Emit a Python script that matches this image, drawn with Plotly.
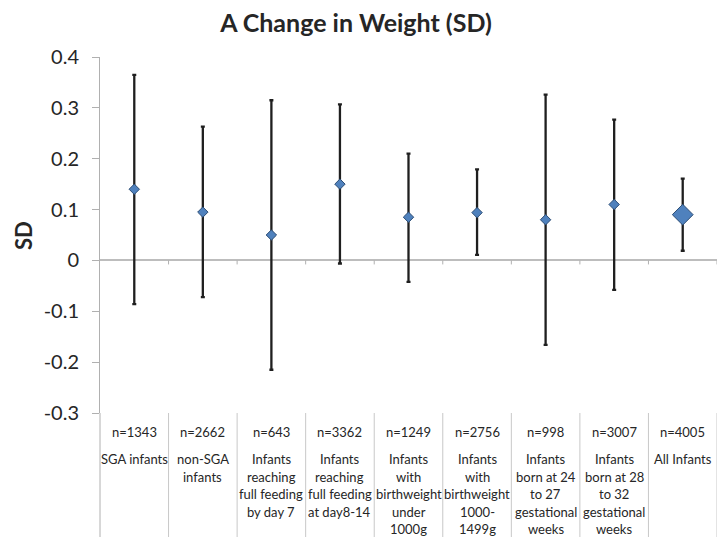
import plotly.graph_objects as go

# ---- data ----
n_labels = ["n=1343", "n=2662", "n=643", "n=3362", "n=1249", "n=2756", "n=998", "n=3007", "n=4005"]
cat_labels = [
    ["SGA infants"],
    ["non-SGA", "infants"],
    ["Infants", "reaching", "full feeding", "by day 7"],
    ["Infants", "reaching", "full feeding", "at day8-14"],
    ["Infants", "with", "birthweight", "under", "1000g"],
    ["Infants", "with", "birthweight", "1000-", "1499g"],
    ["Infants", "born at 24", "to 27", "gestational", "weeks"],
    ["Infants", "born at 28", "to 32", "gestational", "weeks"],
    ["All Infants"],
]
mean_sd = [0.140, 0.095, 0.050, 0.150, 0.085, 0.094, 0.080, 0.110, 0.090]
upper_ci = [0.365, 0.263, 0.315, 0.307, 0.210, 0.179, 0.326, 0.277, 0.161]
lower_ci = [-0.086, -0.072, -0.215, -0.006, -0.042, 0.011, -0.166, -0.058, 0.019]
marker_sizes = [8, 8, 8, 8, 8, 8, 8, 8, 16]
y_tickvals = [0.4, 0.3, 0.2, 0.1, 0, -0.1, -0.2, -0.3]
y_ticktext = ["0.4", "0.3", "0.2", "0.1", "0", "-0.1", "-0.2", "-0.3"]

# ---- layout geometry ----
W, H = 717, 537
ML, MR, MT, MB = 100, 0, 57, 124
plot_h = H - MT - MB
y_range = [-0.3, 0.4]
px_per_unit = plot_h / (y_range[1] - y_range[0])
FONT = "Lato"
TXT = "#262626"
GRAY = "#b0b0b0"

x = list(range(1, len(mean_sd) + 1))
err_plus = [u - m for u, m in zip(upper_ci, mean_sd)]
err_minus = [m - l for m, l in zip(mean_sd, lower_ci)]

fig = go.Figure()
fig.add_trace(go.Scatter(
    x=x, y=mean_sd, mode="markers",
    marker=dict(symbol="diamond", size=marker_sizes, color="#4f81bd", opacity=1,
                line=dict(color="#2c4d75", width=1)),
    error_y=dict(type="data", symmetric=False, array=err_plus, arrayminus=err_minus,
                 color="#1f1f1f", thickness=2.3, width=2),
    showlegend=False, hoverinfo="skip",
))

shapes = []
# extend left axis line into the label table
shapes.append(dict(type="line", xref="paper", yref="paper", x0=0, x1=0, y0=0, y1=-MB / plot_h,
                   line=dict(color=GRAY, width=1)))
# separators between category cells
for i in range(len(x)):
    xb = x[i] + 0.5
    shapes.append(dict(type="line", xref="x", yref="paper", x0=xb, x1=xb, y0=0, y1=-MB / plot_h,
                       line=dict(color="#c8c8c8", width=1)))
# category boundary ticks on zero line
for i in range(len(x)):
    xb = x[i] + 0.5
    shapes.append(dict(type="line", xref="x", yref="y", x0=xb, x1=xb, y0=0, y1=-4 / px_per_unit,
                       line=dict(color=GRAY, width=1)))

annotations = []
def paper_y(ypix):
    return (H - MB - ypix) / plot_h

for i, (nl, lines) in enumerate(zip(n_labels, cat_labels)):
    annotations.append(dict(x=x[i], y=paper_y(432), xref="x", yref="paper", text=nl,
                            showarrow=False, yanchor="middle", xanchor="center",
                            font=dict(family=FONT, size=13, color=TXT)))
    for j, ln in enumerate(lines):
        annotations.append(dict(x=x[i], y=paper_y(459 + 17.5 * j), xref="x", yref="paper", text=ln,
                                showarrow=False, yanchor="middle", xanchor="center",
                                font=dict(family=FONT, size=13, color=TXT)))

# axis title
annotations.append(dict(x=(23 - ML) / (W - ML - MR), y=paper_y(236), xref="paper", yref="paper",
                        text="<b>SD</b>", textangle=-90,
                        showarrow=False, xanchor="center", yanchor="middle",
                        font=dict(family=FONT, size=22, color=TXT)))

fig.update_layout(
    width=W, height=H,
    margin=dict(l=ML, r=MR, t=MT, b=MB),
    paper_bgcolor="white", plot_bgcolor="white",
    title=dict(text="<b>A Change in Weight (SD)</b>", x=356 / W, xanchor="center",
               y=1 - 23 / H, yanchor="middle", font=dict(family=FONT, size=25, color=TXT)),
    xaxis=dict(range=[0.5, len(x) + 0.5], showticklabels=False, showgrid=False,
               zeroline=False, showline=False, fixedrange=True),
    yaxis=dict(range=y_range, tickvals=y_tickvals, ticktext=y_ticktext,
               showgrid=False, showline=True, linecolor=GRAY, linewidth=1,
               ticks="outside", ticklen=7, tickcolor=GRAY, ticklabelstandoff=9,
               zeroline=True, zerolinecolor="#bdbdbd", zerolinewidth=2,
               tickfont=dict(family=FONT, size=20, color=TXT), fixedrange=True),
    shapes=shapes, annotations=annotations,
)

fig.write_html("out.html")
